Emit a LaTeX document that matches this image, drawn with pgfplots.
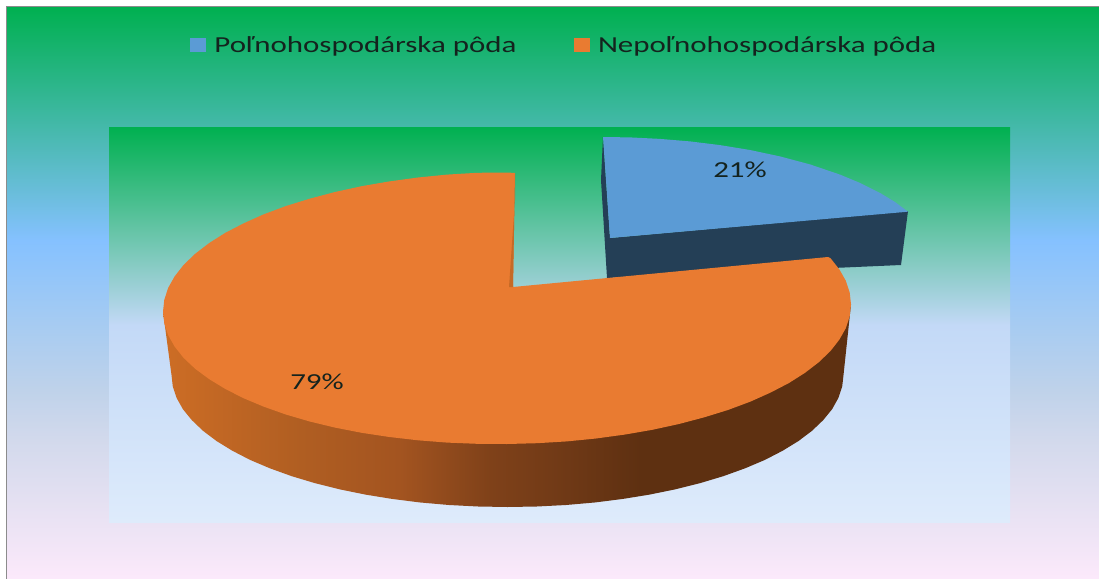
\documentclass[border=0pt]{standalone}
\usepackage{fontspec}
\setmainfont{Carlito}
\usepackage{graphicx}
\usepackage{pgfplots}
\pgfplotsset{compat=1.18}

\definecolor{bluePie}{HTML}{5B9BD5}
\definecolor{blueDark}{HTML}{243F56}
\definecolor{orangePie}{HTML}{E97B31}
\definecolor{orangeEdge}{HTML}{C66A26}
\definecolor{frameGray}{HTML}{8C8C8C}
\definecolor{labelInk}{HTML}{14231E}

\definecolor{gA}{HTML}{00B050}
\definecolor{gB}{HTML}{85C1FF}
\definecolor{gC}{HTML}{FCE9FB}
\definecolor{gD}{HTML}{A5CBF2}
\definecolor{gE}{HTML}{BFD2EA}
\definecolor{gF}{HTML}{D2D9EC}
\definecolor{gG}{HTML}{EBE3F4}
\definecolor{pB}{HTML}{9FD0D8}
\definecolor{pC}{HTML}{C3D9F7}
\definecolor{pD}{HTML}{DEEBFB}
\definecolor{wA}{HTML}{CD6D25}
\definecolor{wB}{HTML}{B05E22}
\definecolor{wC}{HTML}{A35420}
\definecolor{wD}{HTML}{7F4119}
\definecolor{wE}{HTML}{733B17}
\definecolor{wF}{HTML}{5E3011}

% 25bp = bottom/left of the path, 75bp = top/right
\pgfdeclareverticalshading{outerBack}{100bp}{color(0bp)=(gC); color(25bp)=(gC);
  color(29.9bp)=(gG); color(37.2bp)=(gF); color(41.5bp)=(gE); color(47.6bp)=(gD);
  color(54.6bp)=(gB); color(75bp)=(gA); color(100bp)=(gA)}
\pgfdeclareverticalshading{plotBack}{100bp}{color(0bp)=(pD); color(25bp)=(pD);
  color(49.9bp)=(pC); color(54.4bp)=(pB); color(75bp)=(gA); color(100bp)=(gA)}
\pgfdeclarehorizontalshading{pieWall}{100bp}{color(0bp)=(wA); color(25bp)=(wA);
  color(35bp)=(wB); color(42.2bp)=(wC); color(48.8bp)=(wD); color(53.1bp)=(wE);
  color(59.7bp)=(wF); color(100bp)=(wF)}

\begin{document}
\begin{tikzpicture}
\begin{axis}[
    scale only axis,
    width=1099bp, height=579bp,
    xmin=0, xmax=1099, ymin=0, ymax=579,
    y dir=reverse,
    hide axis,
    legend columns=2,
    legend cell align=left,
    legend style={at={(axis cs:190,45)}, anchor=west, draw=none, fill=none,
      inner sep=0pt, outer sep=0pt, text=labelInk,
      font=\fontsize{23}{25}\selectfont,
      /tikz/every even column/.append style={column sep=55bp}},
    legend image code/.code={\fill[#1] (0bp,-7bp) rectangle (16bp,7bp);},
  ]
  % page and backgrounds
  \addplot[fill=white, draw=none, forget plot] coordinates {(0,0) (1099,0) (1099,579) (0,579)} -- cycle;
  \addplot[shading=outerBack, draw=none, forget plot] coordinates {(6,7) (1099,7) (1099,579) (6,579)} -- cycle;
  \addplot[draw=frameGray, line width=1bp, forget plot] coordinates {(6,579) (6,7) (1099,7)};
  \addplot[shading=plotBack, draw=none, forget plot] coordinates {(109,127) (1010,127) (1010,522) (109,522)} -- cycle;

  % exploded 21% slice: walls then top
  \addplot[fill=blueDark, draw=none, forget plot] coordinates {(603,137) (601,180) (607,278) (901,265) (908,211) (610,238)} -- cycle;
  \addplot[fill=bluePie, draw=none] coordinates {
    (603,137) (630,137.4) (660,138.9) (690,141.4) (720,145.1) (750,150) (780,156.4)
    (810,164.4) (840,174.6) (860,182.9) (880,192.9) (895,202) (908,211.7) (610,238)} -- cycle;
  \addlegendentry{\hspace{6.5bp}\scalebox{1.35}[1]{Poľnohospodárska pôda}}

  % 79% slice: outer wall
  \addplot[shading=pieWall, draw=none, forget plot] coordinates {
    (163,311.6) (171.5,375) (172.8,386.5) (176.6,397.9) (182.9,409.2) (191.8,420.1)
    (203,430.8) (216.5,441) (232.3,450.7) (250.1,459.9) (269.9,468.3) (291.5,476.1)
    (314.8,483.1) (339.5,489.3) (365.5,494.6) (392.6,499) (420.5,502.5) (449,505)
    (478.2,506.5) (507.5,507) (536.8,506.5) (566,505) (594.5,502.5) (622.4,499)
    (649.5,494.6) (675.5,489.3) (700.2,483.1) (723.5,476.1) (745.1,468.3) (764.9,459.9)
    (782.7,450.7) (798.5,441) (812,430.8) (823.2,420.1) (832.1,409.2) (838.4,397.9)
    (842.2,386.5) (843.5,375) (851,304.4)} -- cycle;

  % 79% slice: top
  \addplot[fill=orangePie, draw=none] coordinates {
    (515,173) (507,172.5) (477,172.8) (447.1,174.6) (418,177.5) (389.4,181.4) (361.6,186.2)
    (335,192) (309.7,198.7) (285.8,206.1) (263.8,214.3) (243.5,223.4) (225.2,232.9)
    (209.1,243.1) (195.2,253.8) (183.6,264.9) (174.7,276.3) (168.2,287.8) (164.3,299.7)
    (163,311.6) (164.3,323.5) (168.2,335.2) (174.7,346.7) (183.6,357.9) (195.2,368.8)
    (209.1,379.1) (225.2,388.9) (243.5,398.2) (263.8,406.7) (285.8,414.5) (309.7,421.5)
    (335,427.6) (361.6,432.8) (389.4,437) (418,440.3) (447.1,442.6) (477,443.8) (507,444)
    (537,443.2) (566.9,441.4) (596,438.5) (624.6,434.6) (652.4,429.8) (679,424)
    (704.3,417.3) (728.2,409.9) (750.2,401.7) (770.5,392.6) (788.8,383.1) (804.9,372.9)
    (818.8,362.2) (830.4,351.1) (839.3,339.7) (845.8,328.2) (849.7,316.3) (851,304.4)
    (849.7,292.5) (845.8,280.8) (839.3,269.3) (830.4,258.1) (828,257) (513,287)} -- cycle;
  \addlegendentry{\hspace{6.5bp}\scalebox{1.35}[1]{Nepoľnohospodárska pôda}}

  % thin inner wall along the cut
  \addplot[fill=orangeEdge, draw=none, forget plot] coordinates {(515,173) (513,287) (509,287) (515,200)} -- cycle;

  \node[text=labelInk, font=\fontsize{23}{25}\selectfont] at (axis cs:740,170) {\scalebox{1.35}[1]{21\%}};
  \node[text=labelInk, font=\fontsize{23}{25}\selectfont] at (axis cs:317,382) {\scalebox{1.35}[1]{79\%}};
\end{axis}
\end{tikzpicture}
\end{document}
